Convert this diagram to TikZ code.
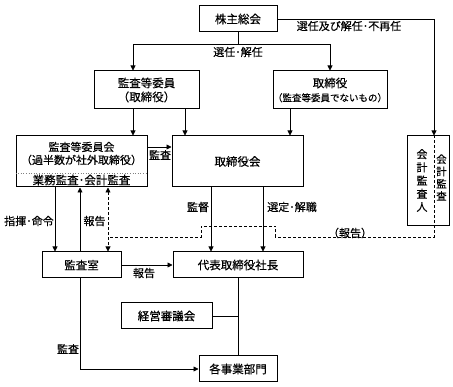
\documentclass[tikz,border=0pt]{standalone}
\usepackage{fontspec}
\setmainfont{Noto Sans CJK JP}[FakeBold=0.4]
\usetikzlibrary{arrows.meta}
\begin{document}
\begin{tikzpicture}[x=1pt,y=-1pt,
  box/.style={draw,line width=1pt,inner sep=0pt,font=\fontsize{11.5}{14}\selectfont,align=center},
  ln/.style={line width=0.8pt},
  arr/.style={line width=0.8pt,-{Triangle[length=5pt,width=5pt]}},
  darr/.style={line width=0.8pt,dash pattern=on 3pt off 2pt,{Triangle[length=5pt,width=5pt]}-{Triangle[length=5pt,width=5pt]}},
  dsh/.style={line width=0.8pt,dash pattern=on 3pt off 2pt},
  lbl/.style={inner sep=0pt,font=\fontsize{11}{13}\selectfont}
]
\useasboundingbox (0,0) rectangle (453,387);
% boxes
\node[box,minimum width=78pt,minimum height=26pt] (kabu) at (238,19) {株主総会};
\node[box,minimum width=105pt,minimum height=38pt] (iin) at (146.5,90) {監査等委員\\（取締役）};
\node[box,minimum width=106pt,minimum height=38pt] (tori) at (330,90) {取締役\\{\fontsize{9.5}{11}\selectfont（監査等委員でないもの）}};
\node[box,minimum width=131pt,minimum height=51pt] (iinkai) at (81.5,161.5) {};
\node[lbl,align=center,font=\fontsize{11}{13}\selectfont] (iinkaiT) at (81.5,153.5) {監査等委員会\\（過半数が社外取締役）};
\node[lbl,font=\fontsize{11.5}{13}\selectfont] (iinkaiB) at (81.5,180) {業務監査･会計監査};
\coordinate (y173) at (0,173);
\draw[line width=0.6pt,gray,dotted] (iinkai.west |- y173) -- (iinkai.east |- y173);
\node[box,minimum width=131pt,minimum height=51pt] (torikai) at (237.5,161.5) {取締役会};
\node[box,minimum width=42pt,minimum height=90pt] (kaikei) at (428,181) {};
\node[lbl,align=center,font=\fontsize{11}{13.2}\selectfont] (kk1) at (422,180.5) {会\\計\\監\\査\\人};
\node[lbl,align=center,font=\fontsize{10.5}{12.3}\selectfont] (kk2) at (441.5,177.5) {会\\計\\監\\査};
\node[box,minimum width=79pt,minimum height=26pt] (kansa) at (81.5,265) {監査室};
\node[box,minimum width=130pt,minimum height=26pt] (shacho) at (238,265) {代表取締役社長};
\node[box,minimum width=91pt,minimum height=26pt] (keiei) at (166.5,316) {経営審議会};
\node[box,minimum width=78pt,minimum height=26pt] (jigyo) at (238,369) {各事業部門};
% helper coordinates
\coordinate (j1) at (238,44);
\coordinate (xa) at (133,0);
\coordinate (xb) at (185,0);
\coordinate (xc) at (290,0);
\coordinate (xd) at (330,0);
\coordinate (xk) at (434,0);
\coordinate (x55) at (55,0);
\coordinate (x80) at (80,0);
\coordinate (x108) at (108,0);
\coordinate (x211) at (211,0);
\coordinate (x263) at (263,0);
\coordinate (y147) at (0,147);
\coordinate (d1) at (434,237);
\coordinate (d2) at (275,237);
\coordinate (d3) at (275,226);
\coordinate (d4) at (201,226);
\coordinate (d5) at (201,237);
\coordinate (d6) at (108,237);
% connectors
\draw[ln] (kabu.south) -- (j1);
\draw[arr] (j1) -| (iin.north -| xa);
\draw[arr] (j1) -| (tori.north -| xd);
\draw[arr] (kabu.east) -| (kaikei.north -| xk);
\draw[arr] (iin.south -| xa) -- (iinkai.north -| xa);
\draw[arr] (iin.south -| xb) -- (torikai.north -| xb);
\draw[arr] (tori.south -| xc) -- (torikai.north -| xc);
\draw[arr] (iinkai.east |- y147) -- (torikai.west |- y147);
\draw[arr] (iinkai.south -| x55) -- (kansa.north -| x55);
\draw[arr] (kansa.north -| x80) -- (iinkai.south -| x80);
\draw[darr] (iinkai.south -| x108) -- (kansa.north -| x108);
\draw[arr] (torikai.south -| x211) -- (shacho.north -| x211);
\draw[arr] (torikai.south -| x263) -- (shacho.north -| x263);
\draw[arr] (kansa.east) -- (shacho.west);
\draw[ln] (shacho.south) -- (jigyo.north);
\draw[ln] (keiei.east) -- (keiei.east -| shacho.south);
\draw[arr] (kansa.south -| x80) |- (jigyo.west);
\draw[dsh] (kaikei.north -| xk) -- (d1) -- (d2) -- (d3) -- (d4) -- (d5) -- (d6);
% labels
\node[lbl] (l1) at (349,26) {選任及び解任･不再任};
\node[lbl] (l2) at (238,52) {選任･解任};
\node[lbl] (l3) at (160,155) {監査};
\node[lbl] (l4) at (29,221) {指揮･命令};
\node[lbl] (l5) at (94.5,221) {報告};
\node[lbl] (l6) at (198,207) {監督};
\node[lbl] (l7) at (292,207) {選定･解職};
\node[lbl] (l8) at (350,233) {（報告）};
\node[lbl] (l9) at (144,273) {報告};
\node[lbl] (l10) at (68,349) {監査};
\end{tikzpicture}
\end{document}
